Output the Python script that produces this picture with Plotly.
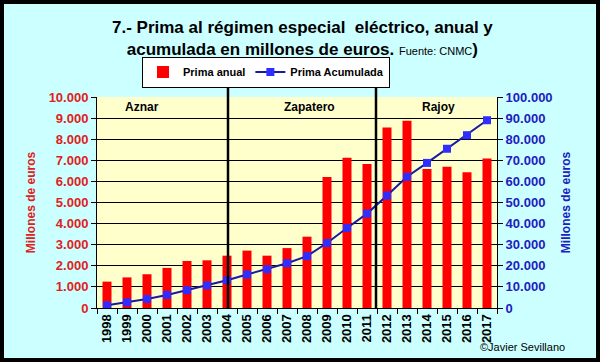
import plotly.graph_objects as go

years = [str(y) for y in range(1998, 2018)]
prima_anual = [1250, 1450, 1600, 1900, 2230, 2260, 2480, 2720, 2480, 2840,
               3380, 6210, 7120, 6820, 8560, 8880, 6590, 6700, 6430, 7090]
prima_acumulada = [1250, 2700, 4300, 6200, 8430, 10690, 13170, 15890, 18370, 21210,
                   24590, 30800, 37920, 44740, 53300, 62180, 68770, 75470, 81900, 88990]
left_ticks = list(range(0, 10001, 1000))
right_ticks = list(range(0, 100001, 10000))
periods = ["Aznar", "Zapatero", "Rajoy"]

W, H = 600, 362
L, R, T, B = 97, 497, 97, 308
pw, ph = R - L, B - T

def px(x):
    return (x - L) / pw

def py(y):
    return (B - y) / ph

FONT = "Liberation Sans, Arial, sans-serif"

fig = go.Figure()
fig.add_trace(go.Bar(
    x=years, y=prima_anual, name="<b>Prima anual</b>",
    marker=dict(color="#FF0000", line=dict(width=0)), width=0.45,
    yaxis="y",
))
fig.add_trace(go.Scatter(
    x=years, y=prima_acumulada, name="<b>Prima Acumulada</b>", mode="lines+markers",
    line=dict(color="#1A1AA0", width=2),
    marker=dict(symbol="square", size=8, color="#2E2EFF", line=dict(width=0)),
    yaxis="y2",
))

fig.update_layout(
    width=W, height=H,
    margin=dict(l=L, r=W - R, t=T, b=H - B, autoexpand=False),
    paper_bgcolor="#CCFFFF",
    plot_bgcolor="#FFFFCC",
    separators=",.",
    showlegend=True,
    legend=dict(
        orientation="h", x=px(266), y=py(72), xanchor="center", yanchor="middle",
        bgcolor="white", bordercolor="black", borderwidth=1,
        font=dict(family=FONT, size=11, color="black"),
        tracegroupgap=0, itemwidth=30,
    ),
    xaxis=dict(
        type="category", tickson="boundaries", ticks="outside", ticklen=5,
        tickcolor="black", showline=True, linecolor="black", linewidth=1,
        tickangle=-90, tickfont=dict(family=FONT, size=13, color="black", weight="bold"),
        showgrid=False, range=[-0.5, 19.5],
    ),
    yaxis=dict(
        range=[0, 10000], tickvals=left_ticks, tickformat=",d",
        showgrid=True, gridcolor="black", gridwidth=1,
        showline=True, linecolor="black", linewidth=1,
        ticks="outside", ticklen=5, tickcolor="black",
        tickfont=dict(family=FONT, size=13, color="#E02020", weight="bold"),
        title=dict(text="<b>Millones de euros</b>", font=dict(family=FONT, size=12, color="#E02020"), standoff=10),
        zeroline=False,
    ),
    yaxis2=dict(
        range=[0, 100000], tickvals=right_ticks, tickformat=",d", overlaying="y", side="right",
        showgrid=False, showline=True, linecolor="black", linewidth=1,
        ticks="outside", ticklen=5, tickcolor="black",
        tickfont=dict(family=FONT, size=13, color="#2020C0", weight="bold"),
        title=dict(text="<b>Millones de euros</b>", font=dict(family=FONT, size=12, color="#2020C0"), standoff=10),
        zeroline=False,
    ),
)

# Title
fig.add_annotation(
    xref="paper", yref="paper", x=px(302), y=py(38), xanchor="center", yanchor="middle",
    text=("<b>7.- Prima al régimen especial  eléctrico, anual y</b><br>"
          "<b>acumulada en millones de euros. </b><span style='font-size:11px'>Fuente: CNMC</span><b>)</b>"),
    showarrow=False, font=dict(family=FONT, size=17, color="black"), align="center",
)

# Period separators
for xpos, ytop in [(6.05, 88), (13.45, 85)]:
    fig.add_shape(type="line", xref="x", yref="paper", x0=xpos, x1=xpos,
                  y0=0, y1=py(ytop), line=dict(color="black", width=2.5))

# Period labels
for name, xc in zip(periods, [1.75, 10.1, 16.55]):
    fig.add_annotation(xref="x", yref="paper", x=xc, y=py(107), text=f"<b>{name}</b>",
                       showarrow=False, font=dict(family=FONT, size=12, color="black"),
                       xanchor="center", yanchor="middle")

# Copyright
fig.add_annotation(xref="paper", yref="paper", x=px(522), y=py(347), text="©Javier Sevillano",
                   showarrow=False, font=dict(family=FONT, size=11, color="black"),
                   xanchor="center", yanchor="middle")

# Outer frame
fig.add_shape(type="rect", xref="paper", yref="paper",
              x0=px(2), x1=px(598), y0=py(360), y1=py(2),
              line=dict(color="black", width=4), fillcolor="rgba(0,0,0,0)", layer="above")

fig.write_html("out.html", config={"displayModeBar": False},
               post_script="document.body.style.margin='0';document.body.style.overflow='hidden';")
